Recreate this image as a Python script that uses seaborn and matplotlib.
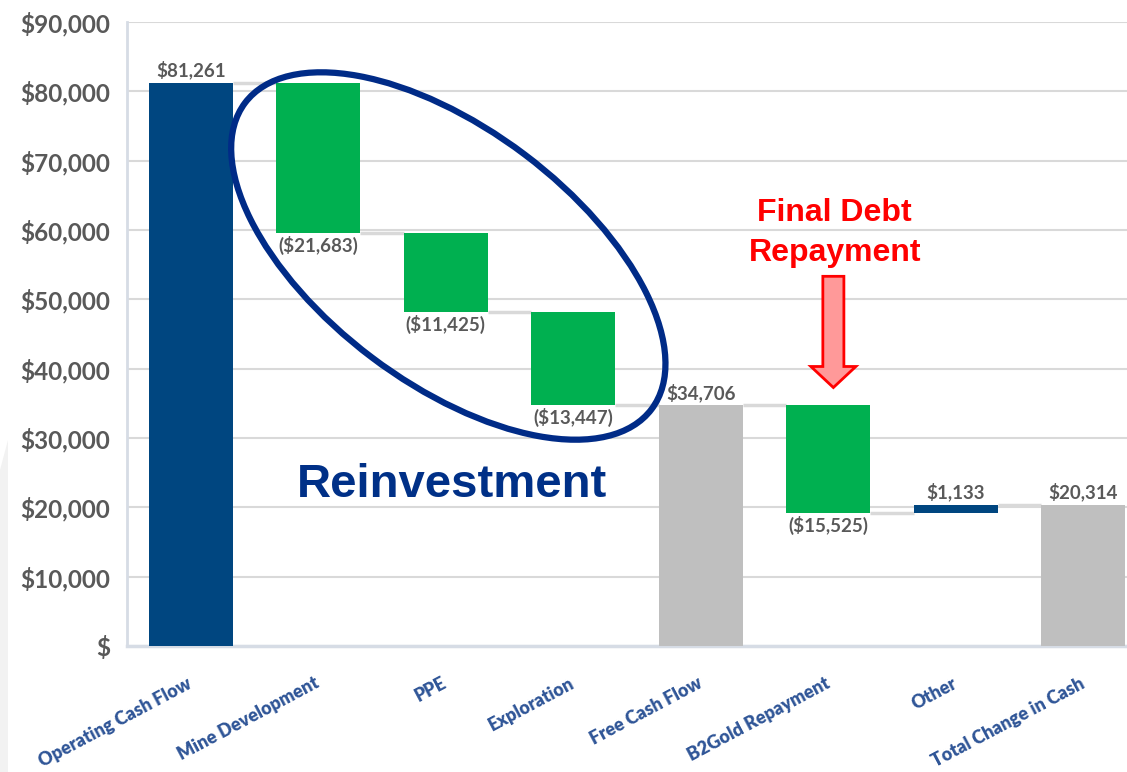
import numpy as np
import pandas as pd
import matplotlib
matplotlib.use('Agg')
import matplotlib.pyplot as plt
import seaborn as sns
from matplotlib.patches import Ellipse, FancyArrow, Polygon
from matplotlib.transforms import Affine2D, ScaledTranslation

categories = ['Operating Cash Flow', 'Mine Development', 'PPE', 'Exploration',
              'Free Cash Flow', 'B2Gold Repayment', 'Other', 'Total Change in Cash']
values = [81261, -21683, -11425, -13447, 34706, -15525, 1133, 20314]
is_total = [True, False, False, False, True, False, False, True]
bar_colors = ['#004680', '#00B050', '#00B050', '#00B050', '#BFBFBF', '#00B050', '#004680', '#BFBFBF']
yticks = list(range(0, 90001, 10000))
ytick_labels = ['$'] + [f'${v:,}' for v in yticks[1:]]

bottoms, ends = [], []
level = 0
for v, t in zip(values, is_total):
    if t:
        bottoms.append(0)
        level = v
    else:
        bottoms.append(level)
        level += v
    ends.append(level)

sns.set_theme(style='white')
plt.rcParams['font.family'] = ['Lato', 'DejaVu Sans']

W, H = 1127, 772
fig = plt.figure(figsize=(W / 100, H / 100), dpi=100)

# light slide strip on the left edge
strip = Polygon([(0, 1 - 470 / H), (8 / W, 1 - 440 / H), (8 / W, 0), (0, 0)],
                closed=True, transform=fig.transFigure, fc='#F2F2F2', ec='none', zorder=0)
fig.patches.append(strip)

ax = fig.add_axes([0.1127, 0.1632, 0.8873, 0.8083])

df = pd.DataFrame({'cat': categories, 'val': values})
sns.barplot(data=df, x='cat', y='val', bottom=bottoms, width=0.66, ax=ax,
            errorbar=None, color='#004680', zorder=3, linewidth=0)
for p, c in zip(ax.patches, bar_colors):
    p.set_facecolor(c)
    p.set_edgecolor(c)

# connectors
bw = 0.33
for i in range(len(values) - 1):
    y = ends[i]
    ax.plot([i + bw, i + 1 - bw], [y, y], color='#D9D9D9', lw=2.5, zorder=2,
            solid_capstyle='butt')

# value labels
for i, (v, b) in enumerate(zip(values, bottoms)):
    top = max(b, b + v)
    bot = min(b, b + v)
    if v >= 0:
        ax.text(i, top + 500, f'${v:,}', ha='center', va='bottom', fontsize=13.5,
                fontweight='bold', color='#595959', zorder=6)
    else:
        ax.text(i, bot - 400, f'(${-v:,})', ha='center', va='top', fontsize=13.5,
                fontweight='bold', color='#595959', zorder=6)

ax.set_ylim(0, 90000)
ax.set_xlim(-0.5, 7.343)
ax.set_yticks(yticks)
ax.set_yticklabels(ytick_labels, fontweight='bold')
ax.yaxis.grid(True, color='#D9D9D9', lw=1.5)
ax.set_axisbelow(True)
ax.tick_params(axis='y', length=0, pad=12, labelsize=17.5, labelcolor='#595959')
ax.set_xticks(range(len(categories)))
ax.set_xticklabels(categories, rotation=28, ha='right', va='center', rotation_mode='anchor',
                   color='#2F5597', fontsize=13, fontweight='heavy')
ax.tick_params(axis='x', length=0, pad=26)
ax.set_xlabel('')
ax.set_ylabel('')
for s in ['top', 'right']:
    ax.spines[s].set_visible(False)
ax.spines['left'].set_color('#D6DCE5')
ax.spines['left'].set_linewidth(2)
ax.spines['bottom'].set_color('#D6DCE5')
ax.spines['bottom'].set_linewidth(2.5)

# ellipse annotation
trans = Affine2D().scale(fig.dpi / 100) + ScaledTranslation(2.02, 56250, ax.transData)
ell = Ellipse((0, 0), 509, 254, angle=-37, transform=trans, fill=False,
              ec='#002B87', lw=4.5, zorder=7, clip_on=False)
ax.add_patch(ell)

ax.text(2.05, 23270, 'Reinvestment', ha='center', va='center', fontsize=34,
        fontweight='bold', color='#003087', family=['Liberation Sans', 'DejaVu Sans'], zorder=7)
ax.text(5.05, 59550, 'Final Debt\nRepayment', ha='center', va='center', fontsize=23,
        fontweight='bold', color='#FF0000', family=['Liberation Sans', 'DejaVu Sans'],
        linespacing=1.45, zorder=7)

arrow = FancyArrow(5.04, 53320, 0, -16040, width=0.165, head_width=0.353,
                   head_length=3035, length_includes_head=True, fc='#FF9999',
                   ec='#FF0000', lw=2, zorder=7)
ax.add_patch(arrow)

fig.savefig('out.png', dpi=100)
